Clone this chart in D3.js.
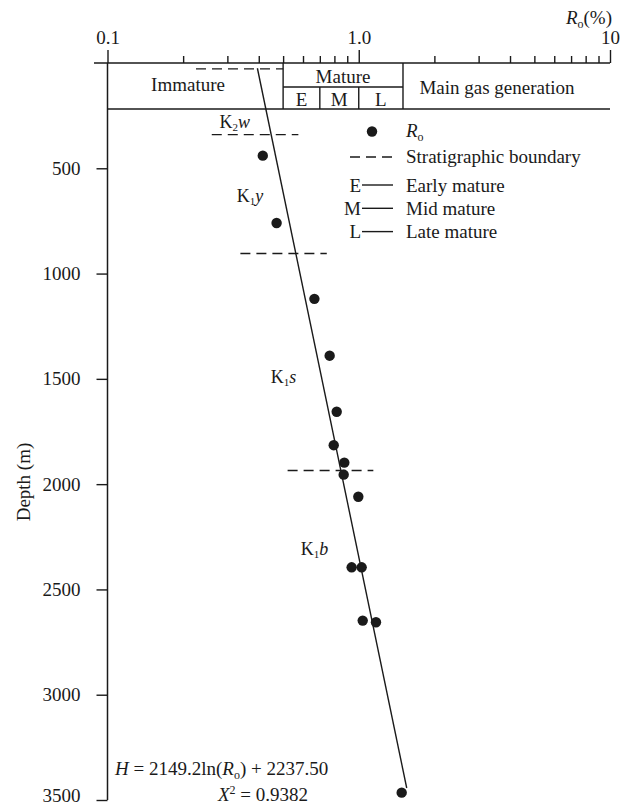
<!DOCTYPE html>
<html lang="en">
<head>
<meta charset="UTF-8">
<title>Ro vs depth</title>
<script src="https://cdn.jsdelivr.net/npm/d3@7/dist/d3.min.js"></script>
<style>
  body { margin: 0; background: #fff; }
  svg { font-family: "Liberation Serif", "Times New Roman", serif; }
  text { fill: #1a1a1a; }
</style>
</head>
<body>
<div id="chart"></div>
<script>

const width = 624;
const height = 807;

// vitrinite reflectance samples (Ro %, depth m)
const roValues    = [0.415, 0.471, 0.666, 0.766, 0.817, 0.795, 0.876, 0.871, 0.996, 0.937, 1.027, 1.037, 1.171, 1.482];
const depthValues = [440, 760, 1120, 1390, 1656, 1815, 1898, 1955, 2060, 2395, 2395, 2648, 2656, 3465];

// regression line as drawn, read at its two ends
const fitRo    = [0.395, 1.552];
const fitDepth = [25, 3443];

// stratigraphic boundaries (dashed)
const boundaryDepth = [28, 340, 905, 1935];
const boundaryFrom  = [0.225, 0.260, 0.338, 0.521];
const boundaryTo    = [0.500, 0.575, 0.746, 1.143];

// formation labels
const formations   = [["K", "2", "w"], ["K", "1", "y"], ["K", "1", "s"], ["K", "1", "b"]];
const formationRo  = [0.279, 0.327, 0.446, 0.588];
const formationDep = [309, 658, 1520, 2337];

// maturity header
const stageEdges  = [0.1, 0.5, 1.5, 10];
const stageNames  = ["Immature", "Mature", "Main gas generation"];
const subEdges    = [0.5, 0.7, 1.0, 1.5];
const subNames    = ["E", "M", "L"];

const xMajor = [0.1, 1, 10];
const xMinor = [0.2, 0.3, 0.4, 0.5, 0.6, 0.7, 0.8, 0.9, 2, 3, 4, 5, 6, 7, 8, 9];
const yTicks = [500, 1000, 1500, 2000, 2500, 3000, 3500];

const x = d3.scaleLog().domain([0.1, 10]).range([107.5, 610]);
const y = d3.scaleLinear().domain([0, 3500]).range([63, 800]);

const ink = "#1a1a1a";

const svg = d3.select("#chart").append("svg")
    .attr("width", width)
    .attr("height", height);

// top axis
svg.append("g")
    .attr("transform", "translate(0," + y(0) + ")")
    .call(d3.axisTop(x).tickValues(xMinor).tickSize(7).tickFormat(""))
    .call(g => g.select(".domain").remove());

svg.append("g")
    .attr("transform", "translate(0," + y(0) + ")")
    .call(d3.axisTop(x).tickValues(xMajor).tickSize(13).tickPadding(6.5)
        .tickFormat(d => d === 1 ? "1.0" : String(d)))
    .call(g => g.select(".domain").remove())
    .attr("font-family", null).attr("font-size", 19);

svg.selectAll(".tick line").attr("stroke", ink).attr("stroke-width", 1.4);

svg.append("line")
    .attr("x1", 94).attr("x2", x(10))
    .attr("y1", y(0)).attr("y2", y(0))
    .attr("stroke", ink).attr("stroke-width", 1.5);

// left axis
const yAxis = svg.append("g")
    .attr("transform", "translate(" + x(0.1) + ",0)")
    .call(d3.axisLeft(y).tickValues(yTicks).tickSize(11).tickPadding(16)
        .tickSizeOuter(0).tickFormat(d3.format("d")))
    .call(g => g.select(".domain").remove())
    .attr("font-family", null).attr("font-size", 19);
yAxis.selectAll("line").attr("stroke", ink).attr("stroke-width", 1.4);
// last label sits on the bottom edge, lift it a touch so it stays inside
yAxis.selectAll(".tick text").filter(d => d === 3500).attr("dy", "0.1em");

svg.append("line")
    .attr("x1", x(0.1)).attr("x2", x(0.1))
    .attr("y1", y(0)).attr("y2", y(3500))
    .attr("stroke", ink).attr("stroke-width", 1.5);

svg.append("text")
    .attr("transform", "translate(30,482) rotate(-90)")
    .attr("text-anchor", "middle")
    .attr("font-size", 19)
    .text("Depth (m)");

// axis title Ro(%)
const xTitle = svg.append("text")
    .attr("x", 612).attr("y", 24)
    .attr("text-anchor", "end")
    .attr("font-size", 19);
xTitle.append("tspan").attr("font-style", "italic").text("R");
xTitle.append("tspan").attr("font-size", 12).attr("dy", 4).text("o");
xTitle.append("tspan").attr("dy", -4).text("(%)");

// header boxes
const hTop = y(0), hMid = 87, hBot = 109;
const header = svg.append("g").attr("stroke", ink).attr("stroke-width", 1.4);
header.append("line").attr("x1", x(0.1)).attr("x2", x(10)).attr("y1", hBot).attr("y2", hBot);
header.append("line").attr("x1", x(subEdges[0])).attr("x2", x(subEdges[3])).attr("y1", hMid).attr("y2", hMid);
header.selectAll(".stage-edge")
    .data(stageEdges.slice(1, 3))
    .enter().append("line")
    .attr("x1", d => x(d)).attr("x2", d => x(d))
    .attr("y1", hTop).attr("y2", hBot);
header.selectAll(".sub-edge")
    .data(subEdges.slice(1, 3))
    .enter().append("line")
    .attr("x1", d => x(d)).attr("x2", d => x(d))
    .attr("y1", hMid).attr("y2", hBot);

const stageText = [
    { name: stageNames[0], cx: 188, by: 91 },
    { name: stageNames[1], cx: (x(stageEdges[1]) + x(stageEdges[2])) / 2, by: 83 },
    { name: stageNames[2], cx: 497, by: 94 }
];
svg.selectAll(".stage")
    .data(stageText)
    .enter().append("text")
    .attr("x", d => d.cx).attr("y", d => d.by)
    .attr("text-anchor", "middle")
    .attr("font-size", 19)
    .text(d => d.name);

svg.selectAll(".sub")
    .data(subNames)
    .enter().append("text")
    .attr("x", (d, i) => (x(subEdges[i]) + x(subEdges[i + 1])) / 2)
    .attr("y", 106)
    .attr("text-anchor", "middle")
    .attr("font-size", 19)
    .text(d => d);

// stratigraphic boundaries
svg.selectAll(".boundary")
    .data(boundaryDepth)
    .enter().append("line")
    .attr("x1", (d, i) => x(boundaryFrom[i]))
    .attr("x2", (d, i) => x(boundaryTo[i]))
    .attr("y1", d => y(d)).attr("y2", d => y(d))
    .attr("stroke", ink).attr("stroke-width", 1.4)
    .attr("stroke-dasharray", "10,6");

// regression line
svg.append("line")
    .attr("x1", x(fitRo[0])).attr("y1", y(fitDepth[0]))
    .attr("x2", x(fitRo[1])).attr("y2", y(fitDepth[1]))
    .attr("stroke", ink).attr("stroke-width", 1.4);

// samples
svg.selectAll(".sample")
    .data(roValues)
    .enter().append("circle")
    .attr("cx", d => x(d))
    .attr("cy", (d, i) => y(depthValues[i]))
    .attr("r", 5.2)
    .attr("fill", ink);

// formation labels
const fl = svg.selectAll(".formation")
    .data(formations)
    .enter().append("text")
    .attr("x", (d, i) => x(formationRo[i]))
    .attr("y", (d, i) => y(formationDep[i]))
    .attr("font-size", 18);
fl.append("tspan").text(d => d[0]);
fl.append("tspan").attr("font-size", 11).attr("dy", 3).text(d => d[1]);
fl.append("tspan").attr("font-style", "italic").attr("dy", -3).text(d => d[2]);

// legend
const legend = svg.append("g").attr("font-size", 19);
legend.append("circle").attr("cx", 372).attr("cy", 131.5).attr("r", 5.2).attr("fill", ink);
const lr = legend.append("text").attr("x", 406).attr("y", 137);
lr.append("tspan").attr("font-style", "italic").text("R");
lr.append("tspan").attr("font-size", 12).attr("dy", 4).text("o");

legend.append("line")
    .attr("x1", 350).attr("x2", 393).attr("y1", 157).attr("y2", 157)
    .attr("stroke", ink).attr("stroke-width", 1.4).attr("stroke-dasharray", "10,6");
legend.append("text").attr("x", 406).attr("y", 163).text("Stratigraphic boundary");

const legendRows = [["E", "Early mature"], ["M", "Mid mature"], ["L", "Late mature"]];
legendRows.forEach((r, i) => {
    const cy = 185 + i * 23.3;
    legend.append("text").attr("x", 361).attr("y", cy + 6.5).attr("text-anchor", "end").text(r[0]);
    legend.append("line")
        .attr("x1", 362).attr("x2", 393).attr("y1", cy).attr("y2", cy)
        .attr("stroke", ink).attr("stroke-width", 1.4);
    legend.append("text").attr("x", 406).attr("y", cy + 6.5).text(r[1]);
});

// equation
const eq = svg.append("text").attr("x", 115).attr("y", 775).attr("font-size", 19);
eq.append("tspan").attr("font-style", "italic").text("H");
eq.append("tspan").text(" = 2149.2ln(");
eq.append("tspan").attr("font-style", "italic").text("R");
eq.append("tspan").attr("font-size", 12).attr("dy", 4).text("o");
eq.append("tspan").attr("dy", -4).text(") + 2237.50");

const chi = svg.append("text").attr("x", 218).attr("y", 801).attr("font-size", 19);
chi.append("tspan").attr("font-style", "italic").text("X");
chi.append("tspan").attr("font-size", 12).attr("dy", -7).text("2");
chi.append("tspan").attr("dy", 7).text(" = 0.9382");

</script>
</body>
</html>
